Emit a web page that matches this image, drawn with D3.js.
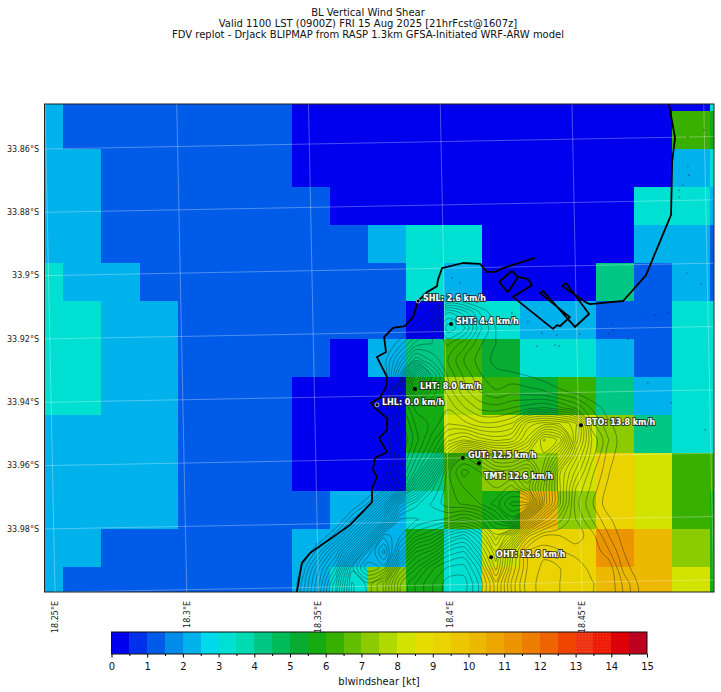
<!DOCTYPE html>
<html><head><meta charset="utf-8">
<style>html,body{margin:0;padding:0;background:#fff}svg{display:block}text{font-family:"DejaVu Sans",sans-serif}</style>
<script src="https://cdn.jsdelivr.net/npm/d3@7/dist/d3.min.js"></script>
</head><body><div id="c"></div>
<script>
const titleLines = ["BL Vertical Wind Shear","Valid 1100 LST (0900Z) FRI 15 Aug 2025 [21hrFcst@1607z]","FDV replot - DrJack BLIPMAP from RASP 1.3km GFSA-Initiated WRF-ARW model"];
const legendTicks = d3.range(0,16);
const legendColors = ["#0000ee","#0030ea","#005ce8","#008ce8","#00b2ec","#00d8ec","#00e0d2","#00dab0","#00c884","#00bc58","#08ac30","#14ac10","#38b000","#62bf00","#8ccb00","#b0d900","#d2e300","#e6dc00","#ead300","#ecc600","#ecb800","#eca800","#ec9500","#ee7e00","#ee6400","#ee4400","#ee3414","#ec1c08","#dc0008","#bc0020"];
const latTicks = [-33.86,-33.88,-33.9,-33.92,-33.94,-33.96,-33.98];
const lonTicks = [18.25,18.3,18.35,18.4,18.45];
const gridLats = [-33.84,-33.86,-33.88,-33.9,-33.92,-33.94,-33.96,-33.98,-34];
const gridLons = [18.25,18.3,18.35,18.4,18.45,18.5];
const shear = [
[2.25,1.25,1.25,1.25,1.25,1.25,1.25,.25,.25,.25,.25,.25,.25,.25,.25,.25,.25,.25,3.25],
[2.25,1.25,1.25,1.25,1.25,1.25,1.25,.25,.25,.25,.25,.25,.25,.25,.25,.25,.25,6.25,5.75],
[2.25,2.25,1.25,1.25,1.25,1.25,1.25,.25,.25,.25,.25,.25,.25,.25,.25,.25,.25,2.25,3.25],
[2.25,2.25,1.25,1.25,1.25,1.25,1.25,1.25,.25,.25,.25,.25,.25,.25,.25,.25,3.25,3.25,2.25],
[2.25,2.25,1.25,1.25,1.25,1.25,1.25,1.25,1.25,2.25,3.25,3.25,.25,.25,.25,.25,2.25,2.25,1.25],
[3.25,2.25,2.25,1.25,1.25,1.25,1.25,1.25,1.25,1.25,3.25,2.25,.25,.25,.25,4.25,1.25,2.25,1.25],
[3.25,3.25,2.25,2.25,1.25,1.25,1.25,1.25,1.25,1.25,.25,3.25,3.25,2.25,2.25,1.25,1.25,3.25,3.25],
[3.25,3.25,2.25,2.25,1.25,1.25,1.25,1.25,.25,2.25,4.25,6.25,5.25,3.25,3.25,2.25,1.25,3.25,3.25],
[3.25,3.25,2.25,2.25,1.25,1.25,1.25,.25,.25,.25,5.75,7.75,6.25,5.25,6.25,4.25,2.25,3.25,3.25],
[2.25,2.25,2.25,2.25,1.25,1.25,1.25,.25,.25,.25,5.75,8.25,8.25,8.25,8.25,7.25,4.25,3.25,3.25],
[2.25,2.25,2.25,2.25,1.25,1.25,1.25,.25,.25,.25,4.25,6.25,7.25,7.25,8.25,9.25,8.25,6.25,6.25],
[2.25,2.25,2.25,2.25,1.25,1.25,1.25,1.25,2.25,2.25,3.25,6.25,5.75,10.25,7.25,9.25,8.25,6.25,5.75],
[2.25,2.25,1.25,1.25,1.25,1.25,1.25,2.25,2.25,2.25,5.75,3.25,8.25,9.25,9.25,11.25,10.25,7.25,5.75],
[2.25,1.25,1.25,1.25,1.25,1.25,1.25,2.25,3.25,7.25,5.75,3.25,9.25,9.25,9.25,10.25,10.25,8.25,5.75]];
const elevation = [
[0,0,0,0,0,0,0,0,0,0,0,0,0,0,0,0,0,0,0,0,0,0,0,0],
[0,0,0,0,0,0,0,0,.4,.9,2.5,2,1.1,.5,0,0,0,0,0,0,0,0,0,0],
[0,0,0,0,0,0,0,.3,1,1.8,3.5,3,1.6,.8,0,0,0,0,0,0,0,0,0,0],
[0,0,0,0,0,0,.3,1,2,2.2,2.6,2,1.2,.8,.5,0,0,0,0,0,0,0,0,0],
[0,0,0,0,0,0,.6,2,3.5,2.8,2.2,1.5,1,.7,.5,.4,0,0,0,0,0,0,0,0],
[0,0,0,0,0,0,.2,3,6.5,4,2.5,1.8,1.2,.9,.9,.8,.6,.4,0,0,0,0,0,0],
[0,0,0,0,0,0,.3,2.5,5,3.4,2.8,2,1.5,1.2,1.4,1.3,1.2,.9,.7,.4,0,0,0,0],
[0,0,0,0,0,0,.5,2,3,3,3.2,2.6,2.1,2,2.2,2.4,2.6,2.3,1.8,1.1,.6,0,0,0],
[0,0,0,0,0,0,.4,1.6,2.6,3,3.6,3.4,3,3,3.3,4.8,5.2,5,4.4,1.6,.9,.5,0,0],
[0,0,0,0,0,0,.4,1.4,2.4,3.4,4.5,5,4.5,4.2,4.4,5.5,7.5,7,4.2,2.2,1.2,.5,0,0],
[0,0,0,0,0,0,.3,1.6,2.8,4,6,8,7.5,6.5,6.5,7,7,5.5,3.4,2,1,.5,0,0],
[0,0,0,0,0,0,.5,2,3.4,5.5,8,9,8.5,8,8,8.5,6.5,4,2.8,1.6,.9,0,0,0],
[0,0,0,0,0,.2,1,2.6,5,7,8,8.5,8.5,8.5,9,8,6,4,2.2,1.4,.7,0,0,0],
[0,0,0,0,.3,1.2,3,6,7,7.5,8,8.2,8.5,9,10,10,6,4,2,1.2,.6,0,0,0],
[0,0,0,.2,1.5,3,5,7.5,7.5,7.2,7,6.5,7,8,9,6,4,3,2.2,1.5,.9,.5,0,0],
[0,0,.3,1.4,3,5,8,7.5,6.5,6,5,4.5,5.5,7,5.5,3,2.2,2.2,2.4,2,1.2,.6,0,0],
[0,.3,1.5,3,5,7.5,9,6.5,5,4.5,3.5,3.2,4.5,6,3.5,1.8,1.6,1.8,2,2.2,1.6,.8,0,0],
[0,1,2.6,4,7,8.5,8,5,4,3,2.5,2.4,3.5,5.5,3.2,1.8,1.4,1.5,1.6,2,2.2,1,.5,0],
[0,1.4,3,5,7.5,7,6,4,3.2,2.6,2,2,3,4.5,2.8,1.6,1.4,1.5,1.6,1.8,2.2,1.4,.7,0],
[0,1.4,3,5,7.5,7,6,4,3.2,2.6,2,2,3,4.5,2.8,1.6,1.4,1.5,1.6,1.8,2.2,1.4,.7,0]];
const contourLevels = d3.range(.8,11,.35);
const westCoast = [[18.4322,-33.8944],[18.4238,-33.8966],[18.42,-33.8976],[18.417,-33.8988],[18.4139,-33.8988],[18.4113,-33.8963],[18.4048,-33.896],[18.3969,-33.8976],[18.3953,-33.9014],[18.395,-33.9033],[18.3912,-33.9052],[18.3878,-33.908],[18.3859,-33.9131],[18.3828,-33.9159],[18.3783,-33.9165],[18.3749,-33.9194],[18.3756,-33.9241],[18.3722,-33.9257],[18.376,-33.932],[18.3756,-33.9352],[18.3733,-33.9386],[18.3699,-33.9402],[18.3714,-33.9418],[18.376,-33.945],[18.376,-33.9487],[18.373,-33.9513],[18.376,-33.9557],[18.3714,-33.9576],[18.3707,-33.9614],[18.3722,-33.9636],[18.3703,-33.9671],[18.3703,-33.9715],[18.362,-33.9787],[18.3468,-33.9876],[18.3437,-33.9907],[18.3418,-33.9999]];
const basinOutline = [[18.4185,-33.902],[18.4234,-33.8985],[18.4257,-33.9004],[18.4219,-33.9052],[18.4185,-33.902]];
const eastCoast = [[18.4257,-33.9004],[18.4295,-33.9011],[18.431,-33.903],[18.4238,-33.9067],[18.439,-33.9168],[18.4405,-33.9156],[18.4417,-33.9159],[18.4454,-33.9131],[18.4341,-33.9055],[18.4352,-33.9048],[18.4473,-33.9162],[18.4527,-33.9121],[18.4439,-33.9023],[18.4424,-33.9033],[18.4519,-33.9086],[18.453,-33.909],[18.4656,-33.908],[18.4743,-33.8998],[18.4838,-33.8808],[18.4842,-33.8641],[18.4853,-33.8565],[18.483,-33.8458]];
const rocks = [[18.4614,-33.9153],[18.4602,-33.9184],[18.4618,-33.9172],[18.4675,-33.92],[18.4777,-33.9124],[18.4826,-33.9118],[18.4898,-33.8992],[18.4952,-33.9026],[18.475,-33.9339],[18.4838,-33.9402],[18.4295,-33.9146],[18.4348,-33.9181],[18.4329,-33.9222],[18.4398,-33.9219],[18.4413,-33.9222],[18.4405,-33.9187],[18.4492,-33.9184],[18.4409,-33.9014],[18.4007,-33.9007],[18.4037,-33.9023],[18.4234,-33.9118],[18.4902,-33.8562],[18.4963,-33.854],[18.4902,-33.8654],[18.4906,-33.8682],[18.4883,-33.8714],[18.4868,-33.873],[18.4868,-33.8752],[18.4967,-33.9487],[18.3491,-33.9847]];
const siteNames = ["SHL","SHT","LHT","LHL","BTO","GUT","TMT","OHT"];
const siteSpeeds = [2.6,4.4,8.0,0.0,13.8,12.5,12.6,12.6];
const siteLons = [18.3878,18.4003,18.3866,18.3722,18.4496,18.4048,18.4109,18.4155];
const siteLats = [-33.908,-33.9153,-33.9358,-33.9408,-33.9472,-33.9576,-33.9592,-33.9889];
const labelBelow = ["TMT"];
const ringed = ["SHL","LHL"];

const W=721,H=692, P={l:44.5,r:714,t:104,b:592};
const x=d3.scaleLinear().domain([18.25,18.45]).range([55,582]);
const y=d3.scaleLinear().domain([-33.86,-33.98]).range([149,529]);
const svg=d3.select("#c").append("svg").attr("width",W).attr("height",H);
const defs=svg.append("defs");
defs.append("clipPath").attr("id","plot").append("rect").attr("x",P.l).attr("y",P.t).attr("width",P.r-P.l).attr("height",P.b-P.t);
[[26,"#f4501c"],[27,"#f43810"]].forEach(([i,c])=>{
  const p=defs.append("pattern").attr("id","dots"+i).attr("width",3).attr("height",3).attr("patternUnits","userSpaceOnUse");
  p.append("rect").attr("width",3).attr("height",3).attr("fill",legendColors[i]);
  p.append("rect").attr("width",1).attr("height",1).attr("fill",c);
});
svg.append("g").selectAll("text").data(titleLines).join("text")
  .attr("x",368).attr("y",(d,i)=>15.5+i*11.2).attr("text-anchor","middle").attr("font-size",10).attr("fill","#111").text(d=>d);

const color=d3.scaleThreshold().domain(d3.range(.5,15,.5)).range(legendColors);
const col=d3.scaleLinear().domain([1,2]).range([x(18.2532),x(18.2532+.014444)]);
const row=d3.scaleLinear().domain([1,2]).range([y(-33.848),y(-33.848-.012)]);
const plot=svg.append("g").attr("clip-path","url(#plot)");
shear.forEach((vals,j)=>{
  plot.append("g").attr("shape-rendering","crispEdges").selectAll("rect").data(vals).join("rect")
    .attr("x",(d,i)=>col(i)).attr("y",row(j))
    .attr("width",(d,i)=>col(i+1)-col(i)+.5).attr("height",row(j+1)-row(j)+.5)
    .attr("fill",d=>color(d));
});
// terrain contours
const nx=elevation[0].length, ny=elevation.length;
const tx=d3.scaleLinear().domain([.5,1.5]).range([x(18.3384),x(18.3384+.00607)]);
const ty=d3.scaleLinear().domain([.5,1.5]).range([y(-33.9064),y(-33.9064-.00505)]);
const ring=d3.line().x(d=>tx(d[0])).y(d=>ty(d[1])).curve(d3.curveCatmullRomClosed.alpha(.5));
const cs=d3.contours().size([nx,ny]).thresholds(contourLevels)(elevation.flat());
const cg=plot.append("g").attr("fill","none").attr("stroke","#06281c").attr("stroke-opacity",.68).attr("stroke-width",.6);
cs.forEach(c=>c.coordinates.forEach(poly=>poly.forEach(r=>cg.append("path").attr("d",ring(r.slice(0,-1))))));
// graticule
const gl=plot.append("g").attr("fill","none").attr("stroke","#fff").attr("stroke-opacity",.3).attr("stroke-width",1);
gridLats.forEach(lat=>gl.append("line").attr("x1",P.l).attr("x2",P.r).attr("y1",y(lat)).attr("y2",y(lat)-12.5));
gridLons.forEach(lon=>gl.append("line").attr("y1",P.b).attr("y2",P.t).attr("x1",x(lon)).attr("x2",x(lon)-10));
// coast
const line=d3.line().x(d=>x(d[0])).y(d=>y(d[1]));
const coast=plot.append("g").attr("fill","none").attr("stroke","#000").attr("stroke-width",1.8).attr("stroke-linejoin","round");
[westCoast,basinOutline,eastCoast].forEach(d=>coast.append("path").attr("d",line(d)));
plot.append("g").selectAll("circle").data(rocks).join("circle")
  .attr("cx",d=>x(d[0])).attr("cy",d=>y(d[1])).attr("r",.7).attr("fill","#001a50").attr("fill-opacity",.7).attr("stroke","none");
// sites
const sg=svg.append("g");
siteNames.forEach((n,i)=>{
  const px=x(siteLons[i]),py=y(siteLats[i]);
  sg.append("circle").attr("cx",px).attr("cy",py).attr("r",2).attr("fill","#000")
    .attr("stroke",ringed.includes(n)?"#ddd":"none").attr("stroke-width",.8);
  sg.append("text").attr("x",px+5).attr("y",py+(labelBelow.includes(n)?16:0))
    .attr("font-size",8).attr("font-weight","bold").attr("fill","#fff")
    .attr("stroke","#222").attr("stroke-width",2).attr("paint-order","stroke").attr("stroke-opacity",.8)
    .text(`${n}: ${siteSpeeds[i].toFixed(1)} km/h`);
});
svg.append("rect").attr("x",P.l).attr("y",P.t).attr("width",P.r-P.l).attr("height",P.b-P.t).attr("fill","none").attr("stroke","#222").attr("stroke-width",1);
// axis labels
svg.append("g").selectAll("text").data(latTicks).join("text")
  .attr("x",39).attr("y",d=>y(d)).attr("dy",".35em").attr("text-anchor","end").attr("font-size",8).attr("fill","#222")
  .text(d=>Math.abs(d)+"°S");
svg.append("g").selectAll("text").data(lonTicks).join("text")
  .attr("transform",d=>`translate(${x(d)},601) rotate(-90)`).attr("dy",".35em").attr("text-anchor","end").attr("font-size",8).attr("fill","#222")
  .text(d=>d+"°E");
// colour bar
const cb=d3.scaleLinear().domain([0,15]).range([111.5,647]);
const cbTop=632,cbH=22;
svg.append("g").attr("shape-rendering","crispEdges").selectAll("rect").data(legendColors).join("rect")
  .attr("x",(d,i)=>cb(i/2)).attr("y",cbTop).attr("width",(d,i)=>cb((i+1)/2)-cb(i/2)+.4).attr("height",cbH)
  .attr("fill",(d,i)=>(i===26||i===27)?`url(#dots${i})`:d);
svg.append("rect").attr("x",111.5).attr("y",cbTop).attr("width",535.5).attr("height",cbH).attr("fill","none").attr("stroke","#111").attr("stroke-width",1);
const major=svg.append("g").attr("transform",`translate(0,${cbTop+cbH})`).call(d3.axisBottom(cb).tickValues(legendTicks).tickFormat(d3.format("d")).tickSize(3.5));
major.select(".domain").remove();
major.selectAll("text").attr("font-size",10).attr("font-family","DejaVu Sans").attr("fill","#111").attr("dy","0.95em");
const minor=svg.append("g").attr("transform",`translate(0,${cbTop+cbH})`).call(d3.axisBottom(cb).tickValues(d3.range(.5,15,1)).tickFormat("").tickSize(2));
minor.select(".domain").remove();
svg.append("text").attr("x",379).attr("y",685).attr("text-anchor","middle").attr("font-size",10).attr("fill","#111").text("blwindshear [kt]");
</script></body></html>
